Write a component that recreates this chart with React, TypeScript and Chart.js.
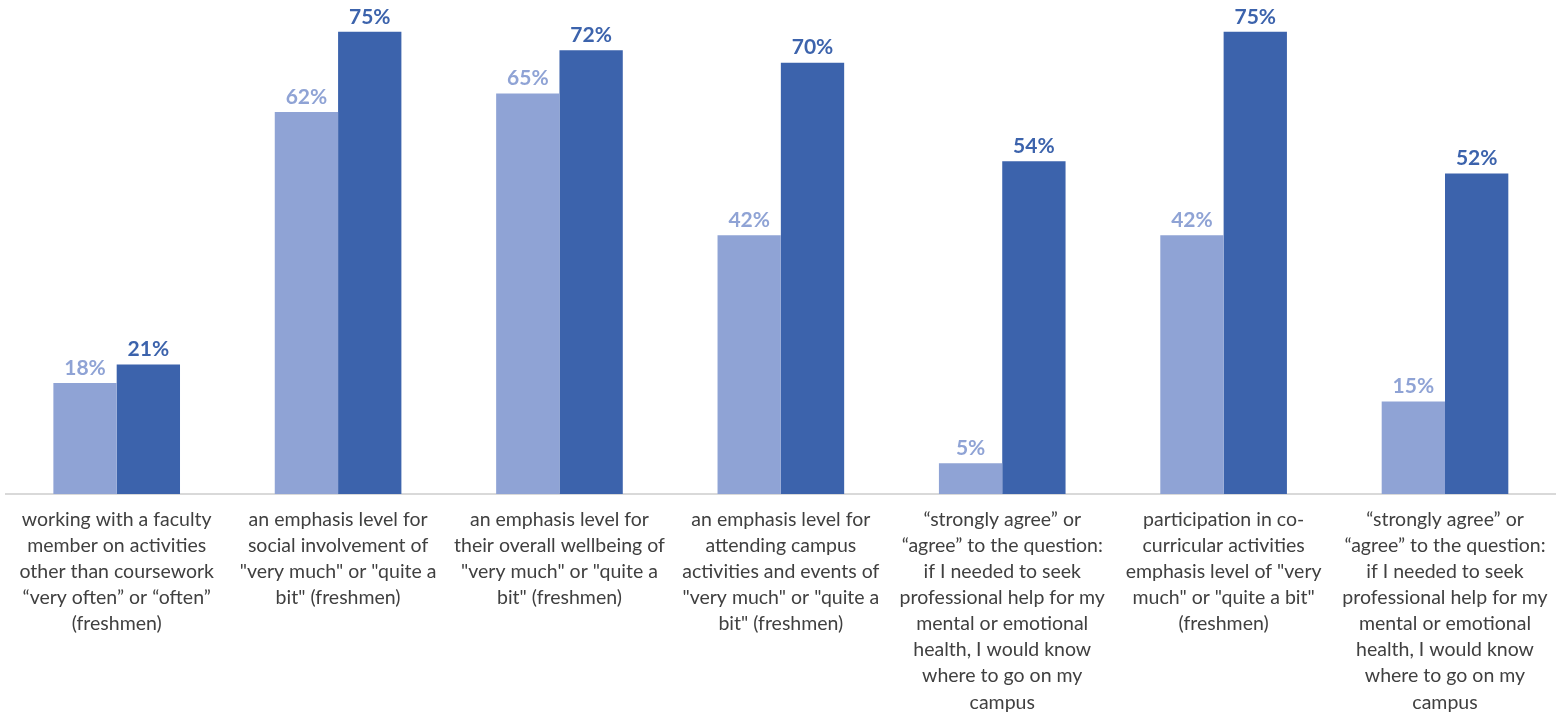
import React, { useEffect, useRef } from "react";
import { Chart, registerables } from "chart.js";

Chart.register(...registerables);

const categories: string[][] = [
  ["working with a faculty", "member on activities", "other than coursework", "\u201cvery often\u201d or \u201coften\u201d", "(freshmen)"],
  ["an emphasis level for", "social involvement of", "\"very much\" or \"quite a", "bit\" (freshmen)"],
  ["an emphasis level for", "their overall wellbeing of", "\"very much\" or \"quite a", "bit\" (freshmen)"],
  ["an emphasis level for", "attending campus", "activities and events of", "\"very much\" or \"quite a", "bit\" (freshmen)"],
  ["\u201cstrongly agree\u201d or", "\u201cagree\u201d to the question:", "if I needed to seek", "professional help for my", "mental or emotional", "health, I would know", "where to go on my", "campus"],
  ["participation in co-", "curricular activities", "emphasis level of \"very", "much\" or \"quite a bit\"", "(freshmen)"],
  ["\u201cstrongly agree\u201d or", "\u201cagree\u201d to the question:", "if I needed to seek", "professional help for my", "mental or emotional", "health, I would know", "where to go on my", "campus"],
];

const seriesA: number[] = [18, 62, 65, 42, 5, 42, 15];
const seriesB: number[] = [21, 75, 72, 70, 54, 75, 52];
const seriesNames: string[] = ["Series A", "Series B"];

const LIGHT = "#8FA3D5";
const DARK = "#3C63AC";
const FONT = "Lato, 'Open Sans', sans-serif";

const labelPlugin = {
  id: "barLabels",
  beforeDatasetsDraw(chart: any) {
    const ctx = chart.ctx;
    ctx.save();
    ctx.font = `bold 21px ${FONT}`;
    ctx.textAlign = "center";
    ctx.textBaseline = "middle";
    chart.data.datasets.forEach((ds: any, di: number) => {
      const meta = chart.getDatasetMeta(di);
      ctx.fillStyle = ds.backgroundColor;
      meta.data.forEach((bar: any, i: number) => {
        ctx.fillText(`${ds.data[i]}%`, bar.x, bar.y - 15);
      });
    });
    ctx.restore();
  },
};

export default function App() {
  const ref = useRef<HTMLCanvasElement | null>(null);

  useEffect(() => {
    document.body.style.margin = "0";
    if (!ref.current) return;
    const chart = new Chart(ref.current, {
      type: "bar",
      data: {
        labels: categories,
        datasets: [
          { label: seriesNames[0], data: seriesA, backgroundColor: LIGHT, borderWidth: 0 },
          { label: seriesNames[1], data: seriesB, backgroundColor: DARK, borderWidth: 0 },
        ],
      },
      options: {
        animation: false,
        responsive: false,
        maintainAspectRatio: false,
        layout: { padding: { left: 6, top: 1, right: 5, bottom: 0 } },
        plugins: { legend: { display: false }, tooltip: { enabled: false } },
        datasets: { bar: { categoryPercentage: 0.572, barPercentage: 1 } },
        scales: {
          x: {
            grid: { display: false, drawTicks: false },
            border: { display: true, color: "#D9D9D9", width: 2 },
            ticks: {
              color: "#404040",
              font: { family: FONT, size: 19.5, lineHeight: 1.335 },
              padding: 13,
              maxRotation: 0,
              autoSkip: false,
            },
            afterFit(scale: any) {
              scale.height = 223;
            },
          },
          y: {
            display: false,
            min: 0,
            max: 80,
          },
        },
      },
      plugins: [labelPlugin],
    });
    return () => chart.destroy();
  }, []);

  return <canvas ref={ref} width={1561} height={717} style={{ display: "block" }} />;
}
